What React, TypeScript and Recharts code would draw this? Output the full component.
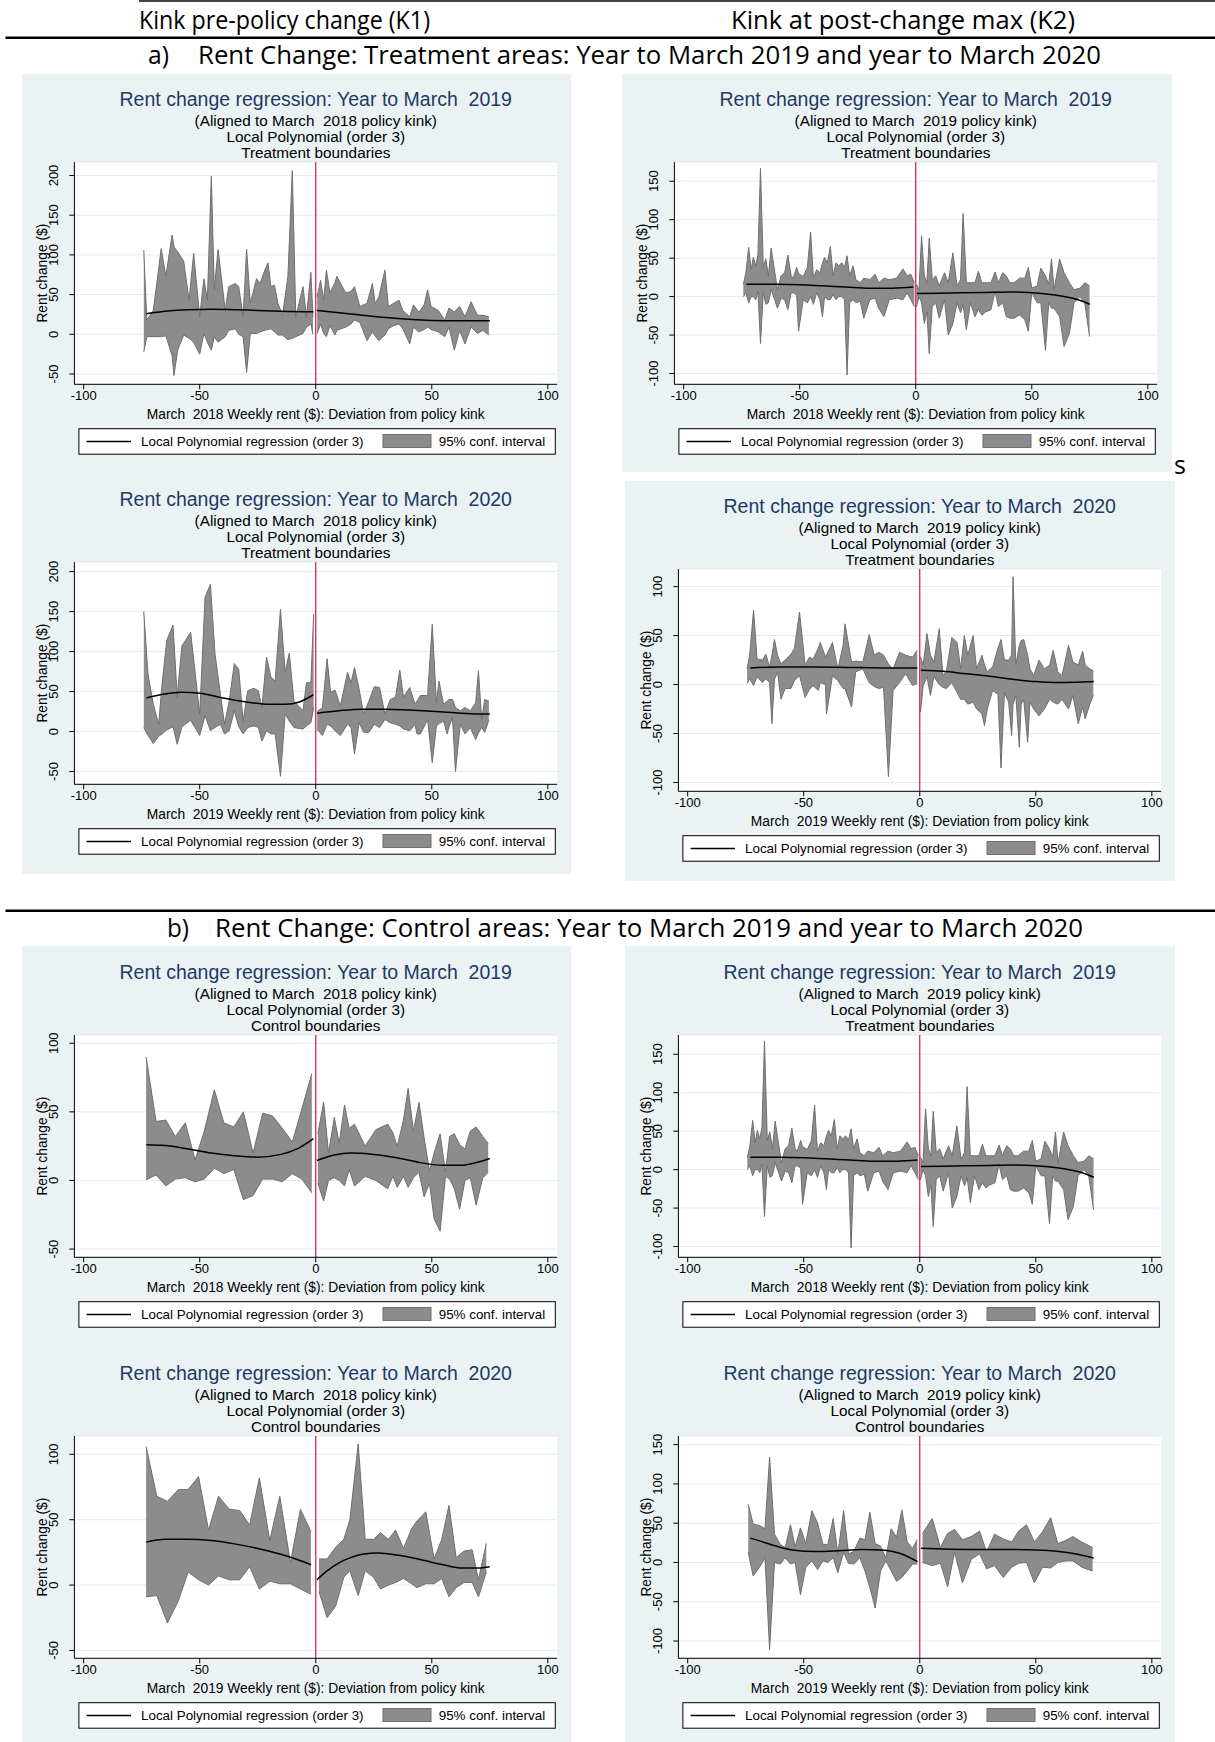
import { ComposedChart, Area, Line, XAxis, YAxis, CartesianGrid, ReferenceLine } from 'recharts'

// bands are [x, lower, upper]; fits are [x, y]
const xTicks = [-100, -50, 0, 50, 100]

const a1BandL = [
  [-74.1, -22, 106], [-72.8, -3, 18], [-70, -3, 30], [-68.5, -3, 64], [-66.6, -3, 108], [-64.6, -2, 73],
  [-61.9, -27, 125], [-61.1, -52, 110], [-59.5, -20, 104], [-56.9, -1, 92], [-54.6, -5, 43], [-52.6, -10, 102],
  [-50, -25, 22], [-48.2, 1, 70], [-46.7, -10, 43], [-45, -20, 199], [-43.7, -3, 56], [-42.1, -10, 107],
  [-39, -3, 30], [-37.5, 5, 60], [-34.7, 7, 64], [-33.2, 0, 60], [-31.3, -3, 22], [-29.8, -48, 107],
  [-28.2, 1, 39], [-25.5, 1, 70], [-24, 3, 64], [-21.9, 5, 81], [-20.6, 6, 90], [-19.3, 7, 60], [-17.8, 3, 62],
  [-16.3, -1, 39], [-14.3, -1, 24], [-12, -7, 73], [-10.1, -5, 206], [-8.6, -3, 22], [-5.5, 1, 60], [-4, 9, 22],
  [-2.1, 13, 78], [-1.2, 0, 22]
]
const a1BandR = [
  [0.6, 1, 47], [2.1, 13, 68], [3.4, 1, 43], [4.6, -3, 81], [6.1, 11, 52], [8.3, -1, 65], [9.1, 5, 73],
  [12.9, 9, 52], [15.2, 13, 54], [16.7, 18, 60], [19, 15, 35], [22.1, -8, 39], [24.4, 3, 64], [25.6, -2, 39],
  [27.2, -8, 47], [29.8, -1, 81], [31.3, 7, 35], [33.6, 11, 39], [35.9, 13, 43], [37.5, 7, 30], [40.5, -12, 22],
  [42.1, 9, 37], [44.4, 3, 28], [46.7, 6, 37], [48.2, 9, 56], [49.7, 6, 35], [52.8, 3, 30], [55.6, -3, 18],
  [57.4, 9, 33], [59.7, -20, 28], [62, 5, 35], [64.3, -12, 22], [66.9, 9, 41], [69.7, 1, 24], [72, 5, 24],
  [74.6, -1, 22]
]
const a1FitL = [[-73, 26], [-65, 29], [-55, 31], [-45, 31.5], [-35, 31], [-25, 30], [-15, 29], [-5, 28.5], [-1, 28.5]]
const a1FitR = [[0.5, 30], [10, 27], [20, 24], [30, 21], [40, 19], [50, 17.5], [60, 17], [70, 17], [75, 17]]

const a2BandL = [
  [-74.1, 5, 150], [-72.3, -5, 72], [-70, -15, 34], [-67.7, -6, 9], [-66.2, -3, 60], [-64.2, 2, 114],
  [-61.5, 6, 133], [-59.7, -16, 43], [-57.7, 6, 107], [-53.9, 14, 124], [-50, -5, 22], [-47.7, 20, 168],
  [-45.4, 1, 184], [-43.4, 5, 97], [-41.1, 9, 47], [-39.3, -3, 9], [-37.3, 1, 38], [-35.1, 26, 85],
  [-33.2, 6, 78], [-31.3, -3, 13], [-29.3, 5, 51], [-26.7, 7, 54], [-24.7, 5, 51], [-23.2, -12, 30],
  [-21.2, 1, 93], [-19.3, -3, 68], [-17.5, -3, 63], [-15.2, -56, 153], [-13.2, 22, 74], [-11.4, 13, 98],
  [-9.4, 5, 38], [-5.5, 3, 26], [-4, 7, 61], [-2.1, 11, 61], [-0.9, 30, 147]
]
const a2BandR = [
  [0.6, 3, 25], [2.9, -5, 30], [4.9, 9, 91], [6.4, 7, 49], [8.3, 1, 52], [10.6, -5, 32], [13.7, 9, 74],
  [15.2, 5, 61], [16.7, -28, 80], [18.7, 11, 53], [20.6, -1, 22], [22.9, -1, 38], [25.2, 9, 56], [27.5, 5, 55],
  [29.8, 15, 22], [32.1, 11, 40], [34.4, 9, 43], [36.2, 7, 77], [37.8, 3, 43], [40.5, 1, 55], [42.8, 9, 34],
  [43.6, -3, 38], [45.1, -3, 45], [48.2, 15, 45], [50.2, -39, 134], [52, 7, 36], [53.1, 10, 63], [55.1, 13, 34],
  [56.6, -3, 38], [57.4, 5, 40], [58.9, 18, 40], [60.2, -50, 30], [62.3, 9, 26], [64.3, -3, 30], [66.6, 5, 26],
  [68.9, -10, 36], [70.1, -2, 76], [71.5, 5, 15], [72.8, -1, 40], [74.6, 14, 38]
]
const a2FitL = [[-73, 42], [-65, 47], [-58, 49], [-50, 48], [-40, 42], [-30, 37], [-20, 34], [-13, 34], [-7, 37], [-1, 46]]
const a2FitR = [[0.5, 23], [10, 26], [20, 28], [30, 28], [40, 27], [50, 25.5], [60, 23.5], [70, 22], [75, 22]]

const a3BandL = [
  [-74.3, 0, 16], [-73.2, 5, 31], [-72, -8, 64], [-70.9, 0, 35], [-70, 0, 51], [-68.9, -4, 40], [-68, 7, 55],
  [-66.9, -61, 167], [-65.7, 5, 38], [-64.6, -10, 49], [-63.5, -8, 27], [-62.3, 9, 63], [-60.8, -4, 33],
  [-59.6, -15, 9], [-58, -2, 27], [-56.5, -4, 31], [-55.1, -17, 54], [-53.7, 5, 27], [-52.8, 5, 24],
  [-51.3, 2, 38], [-50.5, -45, 30], [-48.5, -4, 26], [-46.7, -8, 38], [-45.3, 0, 84], [-44.1, -10, 24],
  [-42.7, 5, 35], [-41.3, -4, 31], [-40.2, -26, 44], [-39.3, 0, 51], [-38.1, -4, 44], [-36.8, -4, 65],
  [-35.6, 3, 27], [-34.4, -4, 44], [-33.2, 0, 40], [-31.9, 0, 44], [-30.7, -4, 38], [-29.6, -102, 53],
  [-28.5, -8, 27], [-27, -4, 40], [-25.8, -8, 22], [-23.9, -6, 18], [-22.4, -28, 24], [-19.8, -4, 22],
  [-17.5, -2, 29], [-16, -15, 18], [-13.7, -26, 24], [-11.4, -4, 22], [-8.3, -2, 24], [-5.5, -4, 36],
  [-3.7, 5, 27], [-2.1, -4, 29], [-0.6, -13, 18]
]
const a3BandR = [
  [0.3, -13, 16], [1.4, 0, 9], [2.5, -8, 79], [3.7, -35, 27], [4.8, -20, 18], [5.8, -74, 76], [7.1, -13, 22],
  [8.6, -8, 27], [10.1, -28, 14], [12.4, -4, 31], [14, -50, 18], [16, -35, 57], [17.8, -8, 14], [19.3, -21, 22],
  [20.4, -10, 108], [21.8, -43, 18], [23.6, -8, 18], [25.5, -26, 18], [27, -17, 33], [28.5, -24, 18],
  [30.1, -20, 18], [32.4, -17, 18], [34.2, 7, 32], [35.6, -13, 18], [37.5, -8, 31], [39, -26, 27],
  [40.5, -28, 18], [42.4, -28, 18], [44.7, -24, 24], [47, -30, 24], [48.5, -45, 38], [50, 5, 11],
  [52.3, -8, 14], [53.9, -8, 37], [55.9, -70, 27], [57.3, -8, 16], [58.5, -15, 49], [59.6, -15, 9],
  [62, -26, 49], [63.9, -65, 31], [66.2, -48, 18], [68.2, -8, 9], [70.8, 0, 11], [72.8, -8, 18], [74.9, -52, 14]
]
const a3FitL = [[-73, 16], [-60, 16], [-50, 15.5], [-40, 14], [-30, 12.5], [-20, 11], [-10, 11], [-1, 12.5]]
const a3FitR = [[0.5, 4], [10, 4.5], [20, 5], [30, 5.5], [40, 6], [50, 5], [60, 2], [65, -0.5], [70, -4], [75, -10]]

const a4BandL = [
  [-74.4, 1, 16], [-73.3, 6, 30], [-71.6, -1, 76], [-70.1, 8, 26], [-67.8, 2, 25], [-66.3, 6, 31],
  [-64.7, 2, 18], [-63.7, -40, 30], [-62.6, 5, 46], [-61.3, 13, 30], [-59.8, -15, 21], [-58, -4, 25],
  [-55.5, -4, 31], [-54, 4, 37], [-51.8, 9, 74], [-49.4, -13, 20], [-47.5, -5, 28], [-46, -1, 26],
  [-43.7, -6, 37], [-42.9, 2, 43], [-40.6, 0, 28], [-40.2, -30, 30], [-37.6, 9, 43], [-35.3, 4, 16],
  [-33, -4, 40], [-32.2, -4, 62], [-29.4, -23, 23], [-27.6, 13, 24], [-24.5, 16, 23], [-21.8, 2, 51],
  [-19.6, -2, 30], [-17.6, -4, 33], [-15.6, -3, 30], [-13.5, -94, 21], [-11.5, -6, 16], [-8.7, 2, 33],
  [-6.1, 11, 30], [-3.1, -1, 28], [-1.1, 1, 35]
]
const a4BandR = [
  [0.3, -28, 28], [1.5, -1, 20], [3.1, 8, 52], [4.6, -11, 30], [6.1, 8, 23], [8.4, 0, 57], [10, -3, 9],
  [11.5, -4, 14], [13.8, 2, 48], [16.1, -8, 43], [17.6, -15, 16], [19.2, -15, 50], [20.7, -20, 30],
  [23, -18, 50], [24.5, -25, 16], [26.8, -30, 30], [27.9, -42, 20], [29.1, -25, 13], [31.4, -6, 18],
  [33.7, -10, 37], [35, -85, 46], [36.5, -8, 25], [38.3, -18, 25], [39.6, -52, 30], [40.2, -20, 110],
  [41.4, -11, 20], [42.9, -64, 40], [43.7, -20, 45], [44.8, -15, 46], [46.5, -59, 30], [47.5, -18, 16],
  [49.1, -25, 9], [51.4, -32, 25], [53.7, -25, 16], [56, -15, 20], [57.5, -18, 35], [59.5, -20, 13],
  [61.3, -15, 9], [64.1, -25, 40], [66, -11, 23], [68.3, -40, 20], [70.2, -23, 34], [71.3, -35, 20],
  [73.3, -20, 16], [74.8, -11, 14]
]
const a4FitL = [[-73, 17], [-60, 18], [-45, 18], [-30, 17.5], [-15, 17], [-1, 17]]
const a4FitR = [[0.5, 14.5], [10, 13.5], [20, 11], [30, 8.5], [40, 5.5], [50, 3], [60, 2], [70, 2.5], [75, 3]]

const b1BandL = [
  [-73.1, 0.5, 90], [-68.8, 4, 43], [-64.6, -4, 44], [-60.5, 1, 32], [-56.2, 2, 42], [-52, -1, 15],
  [-48, 1, 36], [-43.7, 9, 66], [-39.6, 5, 42], [-35.3, 8, 39], [-31.2, -14, 50], [-27, -11, 20],
  [-22.9, 1, 49], [-18.6, 1, 47], [-14.4, -1, 38], [-10.1, 5, 28], [-6, 1, 52], [-1.7, -9, 78]
]
const b1BandR = [
  [0.9, -2, 34], [3.4, -15, 57], [5.5, 0, 20], [8, 2, 46], [10.1, 0, 27], [12.4, -4, 55], [14.4, 8, 38],
  [16.7, -4, 41], [21.3, 3, 25], [25.9, 0, 37], [31, -6, 41], [33.2, 3, 35], [35.1, -5, 25], [37.8, 3, 44],
  [39.8, -5, 67], [42.1, 2, 36], [44.5, 6, 57], [46.7, -12, 31], [49, -2, 7], [51, -28, 20], [53.6, -37, 34],
  [55.9, 3, 6], [57.7, 1, 32], [59.7, -6, 34], [62, -21, 26], [64.3, 0, 23], [66.6, 2, 36], [69.1, -18, 39],
  [72, 2, 32], [74.3, 6, 27]
]
const b1FitL = [[-73, 26], [-65, 25.5], [-55, 23], [-45, 20], [-35, 18], [-25, 17], [-15, 19], [-8, 23], [-1, 30.5]]
const b1FitR = [[0.5, 14.5], [8, 18.5], [15, 20], [25, 19], [35, 16.5], [45, 13], [55, 11], [62, 11], [68, 12.5], [75, 16]]

const b2BandL = [
  [-73.1, -9, 106], [-68.5, -8, 68], [-63.9, -29, 64], [-59.2, -12, 73], [-55, 10, 73], [-50.5, 4, 83],
  [-46.2, 0, 42], [-41.9, 7, 68], [-37.3, 4, 58], [-32.8, 4, 57], [-28.5, 14, 46], [-24.3, -3, 82],
  [-19.8, 3, 34], [-15.5, 1, 68], [-10.9, 1, 17], [-6.6, -3, 58], [-2.1, -7, 41]
]
const b2BandR = [
  [1.4, -5, 20], [4.9, -25, 20], [8.6, -16, 29], [12.1, 6, 35], [14.7, 11, 50], [18.3, -8, 108],
  [21.3, 11, 35], [24.9, 6, 35], [27.9, -3, 40], [31.3, 0, 35], [34.4, 2, 42], [37.8, 5, 28], [41.3, 1, 43],
  [43.6, -2, 49], [47.4, 1, 56], [51, 1, 20], [54.3, 5, 35], [57.4, -9, 61], [60.5, -2, 21], [63.9, 2, 26],
  [67.4, 2, 27], [70.1, -9, 4], [73.5, 10, 32]
]
const b2FitL = [[-73, 33], [-65, 35], [-55, 35], [-45, 34], [-35, 31.5], [-25, 28], [-15, 23.5], [-8, 19.5], [-2, 15.5]]
const b2FitR = [[0.5, 4], [5, 11], [10, 17], [15, 21], [20, 23.5], [27, 24.5], [35, 23], [45, 19.5], [55, 15.5], [63, 13], [70, 13], [75, 14]]

const b4BandL = [
  [-73.9, 13, 74], [-71.8, -17, 49], [-69, -6, 47], [-66.7, 6, 43], [-64.7, -111, 134], [-62.6, 0, 36],
  [-60.1, -2, 23], [-58, 6, 19], [-55.7, -2, 48], [-53.7, 0, 20], [-51.4, -41, 44], [-49.1, -6, 24],
  [-46.5, 2, 66], [-44, -9, 50], [-41.7, 2, 23], [-39.6, 0, 23], [-37.3, 6, 56], [-35.3, -13, 11],
  [-32.8, 13, 66], [-30.7, -1, 11], [-28.4, -2, 14], [-25.8, 6, 31], [-23.6, -11, 29], [-21.5, -32, 64],
  [-19.2, -58, 24], [-16.9, -11, 21], [-14.6, 2, 6], [-12.3, -11, 43], [-10, -24, 32], [-7.7, -19, 67],
  [-5.4, -11, 26], [-3.1, -2, 18], [-1.1, -2, 29]
]
const b4BandR = [
  [1.2, 0, 37], [5.4, -4, 56], [8.9, -1, 19], [12, -31, 37], [15, 13, 42], [18.4, -26, 29], [22.2, 4, 33],
  [25.8, 11, 40], [28.8, -8, 13], [32.2, -4, 36], [36, -19, 30], [39.6, -6, 26], [42.6, -1, 40], [46, 0, 48],
  [49.4, -26, 26], [52.9, -6, 39], [56.4, -7, 57], [59.5, 0, 24], [62.9, 2, 28], [66, 2, 33], [69.8, -6, 26],
  [74.5, -11, 19]
]
const b4FitL = [[-73, 31], [-68, 26.5], [-62, 21], [-55, 16], [-45, 14], [-35, 15], [-25, 16.5], [-15, 15.5], [-8, 11], [-1, 1]]
const b4FitR = [[0.5, 18], [10, 17], [20, 16.5], [30, 16.5], [40, 16.5], [50, 16], [60, 14], [68, 10.5], [75, 5.5]]

const BG = '#eaf2f3'
const NAVY = '#1e3a66'
const BAND = '#8c8c8c'
const BAND_EDGE = '#6f6f6f'
const FONT = '"Liberation Sans", Arial, sans-serif'

const PLOT_LEFT = 52.4
const PLOT_RIGHT = 535.1
const PLOT_TOP = 88
const PLOT_BOTTOM = 310.3
const CHART_H = 330

const toBand = (rows) => rows.map(([x, lo, hi]) => ({ x, band: [lo, hi] }))
const toFit = (rows) => rows.map(([x, y]) => ({ x, fit: y }))

function RotTick(props) {
  const { x, y, payload } = props
  const cx = x - 14
  return (
    <text x={cx} y={y} dy="0.35em" transform={`rotate(-90 ${cx} ${y})`} textAnchor="middle" fontSize={13} fill="#000" fontFamily={FONT}>
      {payload.value}
    </text>
  )
}

function Panel({ left, top, title, aligned, bounds, xTitle, yDomain, yTicks, bandL, bandR, fitL, fitR }) {
  const cx = (PLOT_LEFT + PLOT_RIGHT) / 2
  const cy = (PLOT_TOP + PLOT_BOTTOM) / 2
  return (
    <div style={{ position: 'absolute', left, top, width: 550, height: 400 }}>
      <svg width={600} height={400} style={{ position: 'absolute', left: 0, top: 0, overflow: 'visible' }} fontFamily={FONT}>
        <text x={cx} y={32} textAnchor="middle" fontSize={19.5} fill={NAVY} style={{ whiteSpace: 'pre' }}>{title}</text>
        <text x={cx} y={52.4} textAnchor="middle" fontSize={15.3} fill="#000" style={{ whiteSpace: 'pre' }}>{aligned}</text>
        <text x={cx} y={68} textAnchor="middle" fontSize={15.3} fill="#000">Local Polynomial (order 3)</text>
        <text x={cx} y={83.6} textAnchor="middle" fontSize={15.3} fill="#000">{bounds}</text>
        <text x={cx} y={345.2} textAnchor="middle" fontSize={13.8} fill="#000" style={{ whiteSpace: 'pre' }}>{xTitle}</text>
        <text x={20.2} y={cy} dy="0.35em" transform={`rotate(-90 20.2 ${cy})`} textAnchor="middle" fontSize={13.8} fill="#000">Rent change ($)</text>
        <rect x={56.9} y={354.7} width={476.4} height={25.5} fill="#fff" stroke="#000" strokeWidth={1} />
        <line x1={64.6} x2={109} y1={367.5} y2={367.5} stroke="#000" strokeWidth={1.3} />
        <text x={119} y={372.2} fontSize={13.4} fill="#000">Local Polynomial regression (order 3)</text>
        <rect x={361} y={360.5} width={48} height={13} fill={BAND} stroke={BAND_EDGE} strokeWidth={1} />
        <text x={416.7} y={372.2} fontSize={13.4} fill="#000">95% conf. interval</text>
      </svg>
      <div style={{ position: 'absolute', left: 0, top: 0 }}>
        <ComposedChart width={550} height={CHART_H} margin={{ top: PLOT_TOP, right: 550 - PLOT_RIGHT, bottom: 0, left: 0 }}>
          <CartesianGrid vertical={false} stroke="#e3ebee" fill="#fff" />
          <XAxis type="number" dataKey="x" domain={[-104, 104]} ticks={xTicks} allowDataOverflow interval={0}
            height={CHART_H - PLOT_BOTTOM} tickSize={5} tickMargin={1} stroke="#000"
            tick={{ fill: '#000', fontSize: 13, fontFamily: FONT }} />
          <YAxis type="number" domain={yDomain} ticks={yTicks} allowDataOverflow interval={0}
            width={PLOT_LEFT} tickSize={5} tickMargin={2} stroke="#000" tick={<RotTick />} />
          <Area data={toBand(bandL)} dataKey="band" type="linear" stroke={BAND_EDGE} strokeWidth={1} fill={BAND} fillOpacity={1} isAnimationActive={false} />
          <Area data={toBand(bandR)} dataKey="band" type="linear" stroke={BAND_EDGE} strokeWidth={1} fill={BAND} fillOpacity={1} isAnimationActive={false} />
          <ReferenceLine x={0} stroke="#d4143c" strokeWidth={1.2} />
          <Line data={toFit(fitL)} dataKey="fit" type="monotone" dot={false} stroke="#000" strokeWidth={1.5} isAnimationActive={false} />
          <Line data={toFit(fitR)} dataKey="fit" type="monotone" dot={false} stroke="#000" strokeWidth={1.5} isAnimationActive={false} />
        </ComposedChart>
      </div>
    </div>
  )
}

const TITLE19 = 'Rent change regression: Year to March  2019'
const TITLE20 = 'Rent change regression: Year to March  2020'
const AL18 = '(Aligned to March  2018 policy kink)'
const AL19 = '(Aligned to March  2019 policy kink)'
const X18 = 'March  2018 Weekly rent ($): Deviation from policy kink'
const X19 = 'March  2019 Weekly rent ($): Deviation from policy kink'

export default function App() {
  const hdr = { fontFamily: '"Liberation Sans Narrow", "Open Sans", sans-serif', fontSize: 25, fill: '#000' }
  return (
    <div style={{ position: 'absolute', left: 0, top: 0, width: 1215, height: 1742, background: '#fff', overflow: 'hidden', fontFamily: FONT }}>
      <div style={{ position: 'absolute', left: 22, top: 74, width: 549, height: 800, background: BG }} />
      <div style={{ position: 'absolute', left: 622, top: 74, width: 550, height: 398, background: BG }} />
      <div style={{ position: 'absolute', left: 625, top: 481, width: 550, height: 400, background: BG }} />
      <div style={{ position: 'absolute', left: 22, top: 946, width: 549, height: 796, background: BG }} />
      <div style={{ position: 'absolute', left: 625, top: 946, width: 550, height: 796, background: BG }} />

      <svg width={1215} height={1742} style={{ position: 'absolute', left: 0, top: 0 }}>
        <line x1={139} x2={1215} y1={1} y2={1} stroke="#000" strokeWidth={1.5} />
        <text x={139} y={29} textLength={291} lengthAdjust="spacingAndGlyphs" {...hdr}>Kink pre-policy change (K1)</text>
        <text x={731} y={29} textLength={344} lengthAdjust="spacingAndGlyphs" {...hdr}>Kink at post-change max (K2)</text>
        <line x1={5.5} x2={1215} y1={37.8} y2={37.8} stroke="#000" strokeWidth={2.5} />
        <text x={148} y={64} textLength={21} lengthAdjust="spacingAndGlyphs" {...hdr}>a)</text>
        <text x={198} y={64} textLength={903} lengthAdjust="spacingAndGlyphs" {...hdr}>Rent Change: Treatment areas: Year to March 2019 and year to March 2020</text>
        <text x={1174} y={474} {...hdr}>s</text>
        <line x1={5.5} x2={1215} y1={910.7} y2={910.7} stroke="#000" strokeWidth={2.5} />
        <text x={167} y={937} textLength={22} lengthAdjust="spacingAndGlyphs" {...hdr}>b)</text>
        <text x={215} y={937} textLength={868} lengthAdjust="spacingAndGlyphs" {...hdr}>Rent Change: Control areas: Year to March 2019 and year to March 2020</text>
      </svg>

      <Panel left={22} top={74} title={TITLE19} aligned={AL18} bounds="Treatment boundaries" xTitle={X18}
        yDomain={[-63, 217]} yTicks={[-50, 0, 50, 100, 150, 200]} bandL={a1BandL} bandR={a1BandR} fitL={a1FitL} fitR={a1FitR} />
      <Panel left={22} top={473.7} title={TITLE20} aligned={AL18} bounds="Treatment boundaries" xTitle={X19}
        yDomain={[-66, 212]} yTicks={[-50, 0, 50, 100, 150, 200]} bandL={a2BandL} bandR={a2BandR} fitL={a2FitL} fitR={a2FitR} />
      <Panel left={622} top={74} title={TITLE19} aligned={AL19} bounds="Treatment boundaries" xTitle={X18}
        yDomain={[-114, 175]} yTicks={[-100, -50, 0, 50, 100, 150]} bandL={a3BandL} bandR={a3BandR} fitL={a3FitL} fitR={a3FitR} />
      <Panel left={626} top={481.4} title={TITLE20} aligned={AL19} bounds="Treatment boundaries" xTitle={X19}
        yDomain={[-109, 118]} yTicks={[-100, -50, 0, 50, 100]} bandL={a4BandL} bandR={a4BandR} fitL={a4FitL} fitR={a4FitR} />
      <Panel left={22} top={946.8} title={TITLE19} aligned={AL18} bounds="Control boundaries" xTitle={X18}
        yDomain={[-56, 106]} yTicks={[-50, 0, 50, 100]} bandL={b1BandL} bandR={b1BandR} fitL={b1FitL} fitR={b1FitR} />
      <Panel left={22} top={1347.7} title={TITLE20} aligned={AL18} bounds="Control boundaries" xTitle={X19}
        yDomain={[-56, 114]} yTicks={[-50, 0, 50, 100]} bandL={b2BandL} bandR={b2BandR} fitL={b2FitL} fitR={b2FitR} />
      <Panel left={626} top={946.8} title={TITLE19} aligned={AL19} bounds="Treatment boundaries" xTitle={X18}
        yDomain={[-114, 175]} yTicks={[-100, -50, 0, 50, 100, 150]} bandL={a3BandL} bandR={a3BandR} fitL={a3FitL} fitR={a3FitR} />
      <Panel left={626} top={1347.7} title={TITLE20} aligned={AL19} bounds="Control boundaries" xTitle={X19}
        yDomain={[-122, 161]} yTicks={[-100, -50, 0, 50, 100, 150]} bandL={b4BandL} bandR={b4BandR} fitL={b4FitL} fitR={b4FitR} />
    </div>
  )
}
